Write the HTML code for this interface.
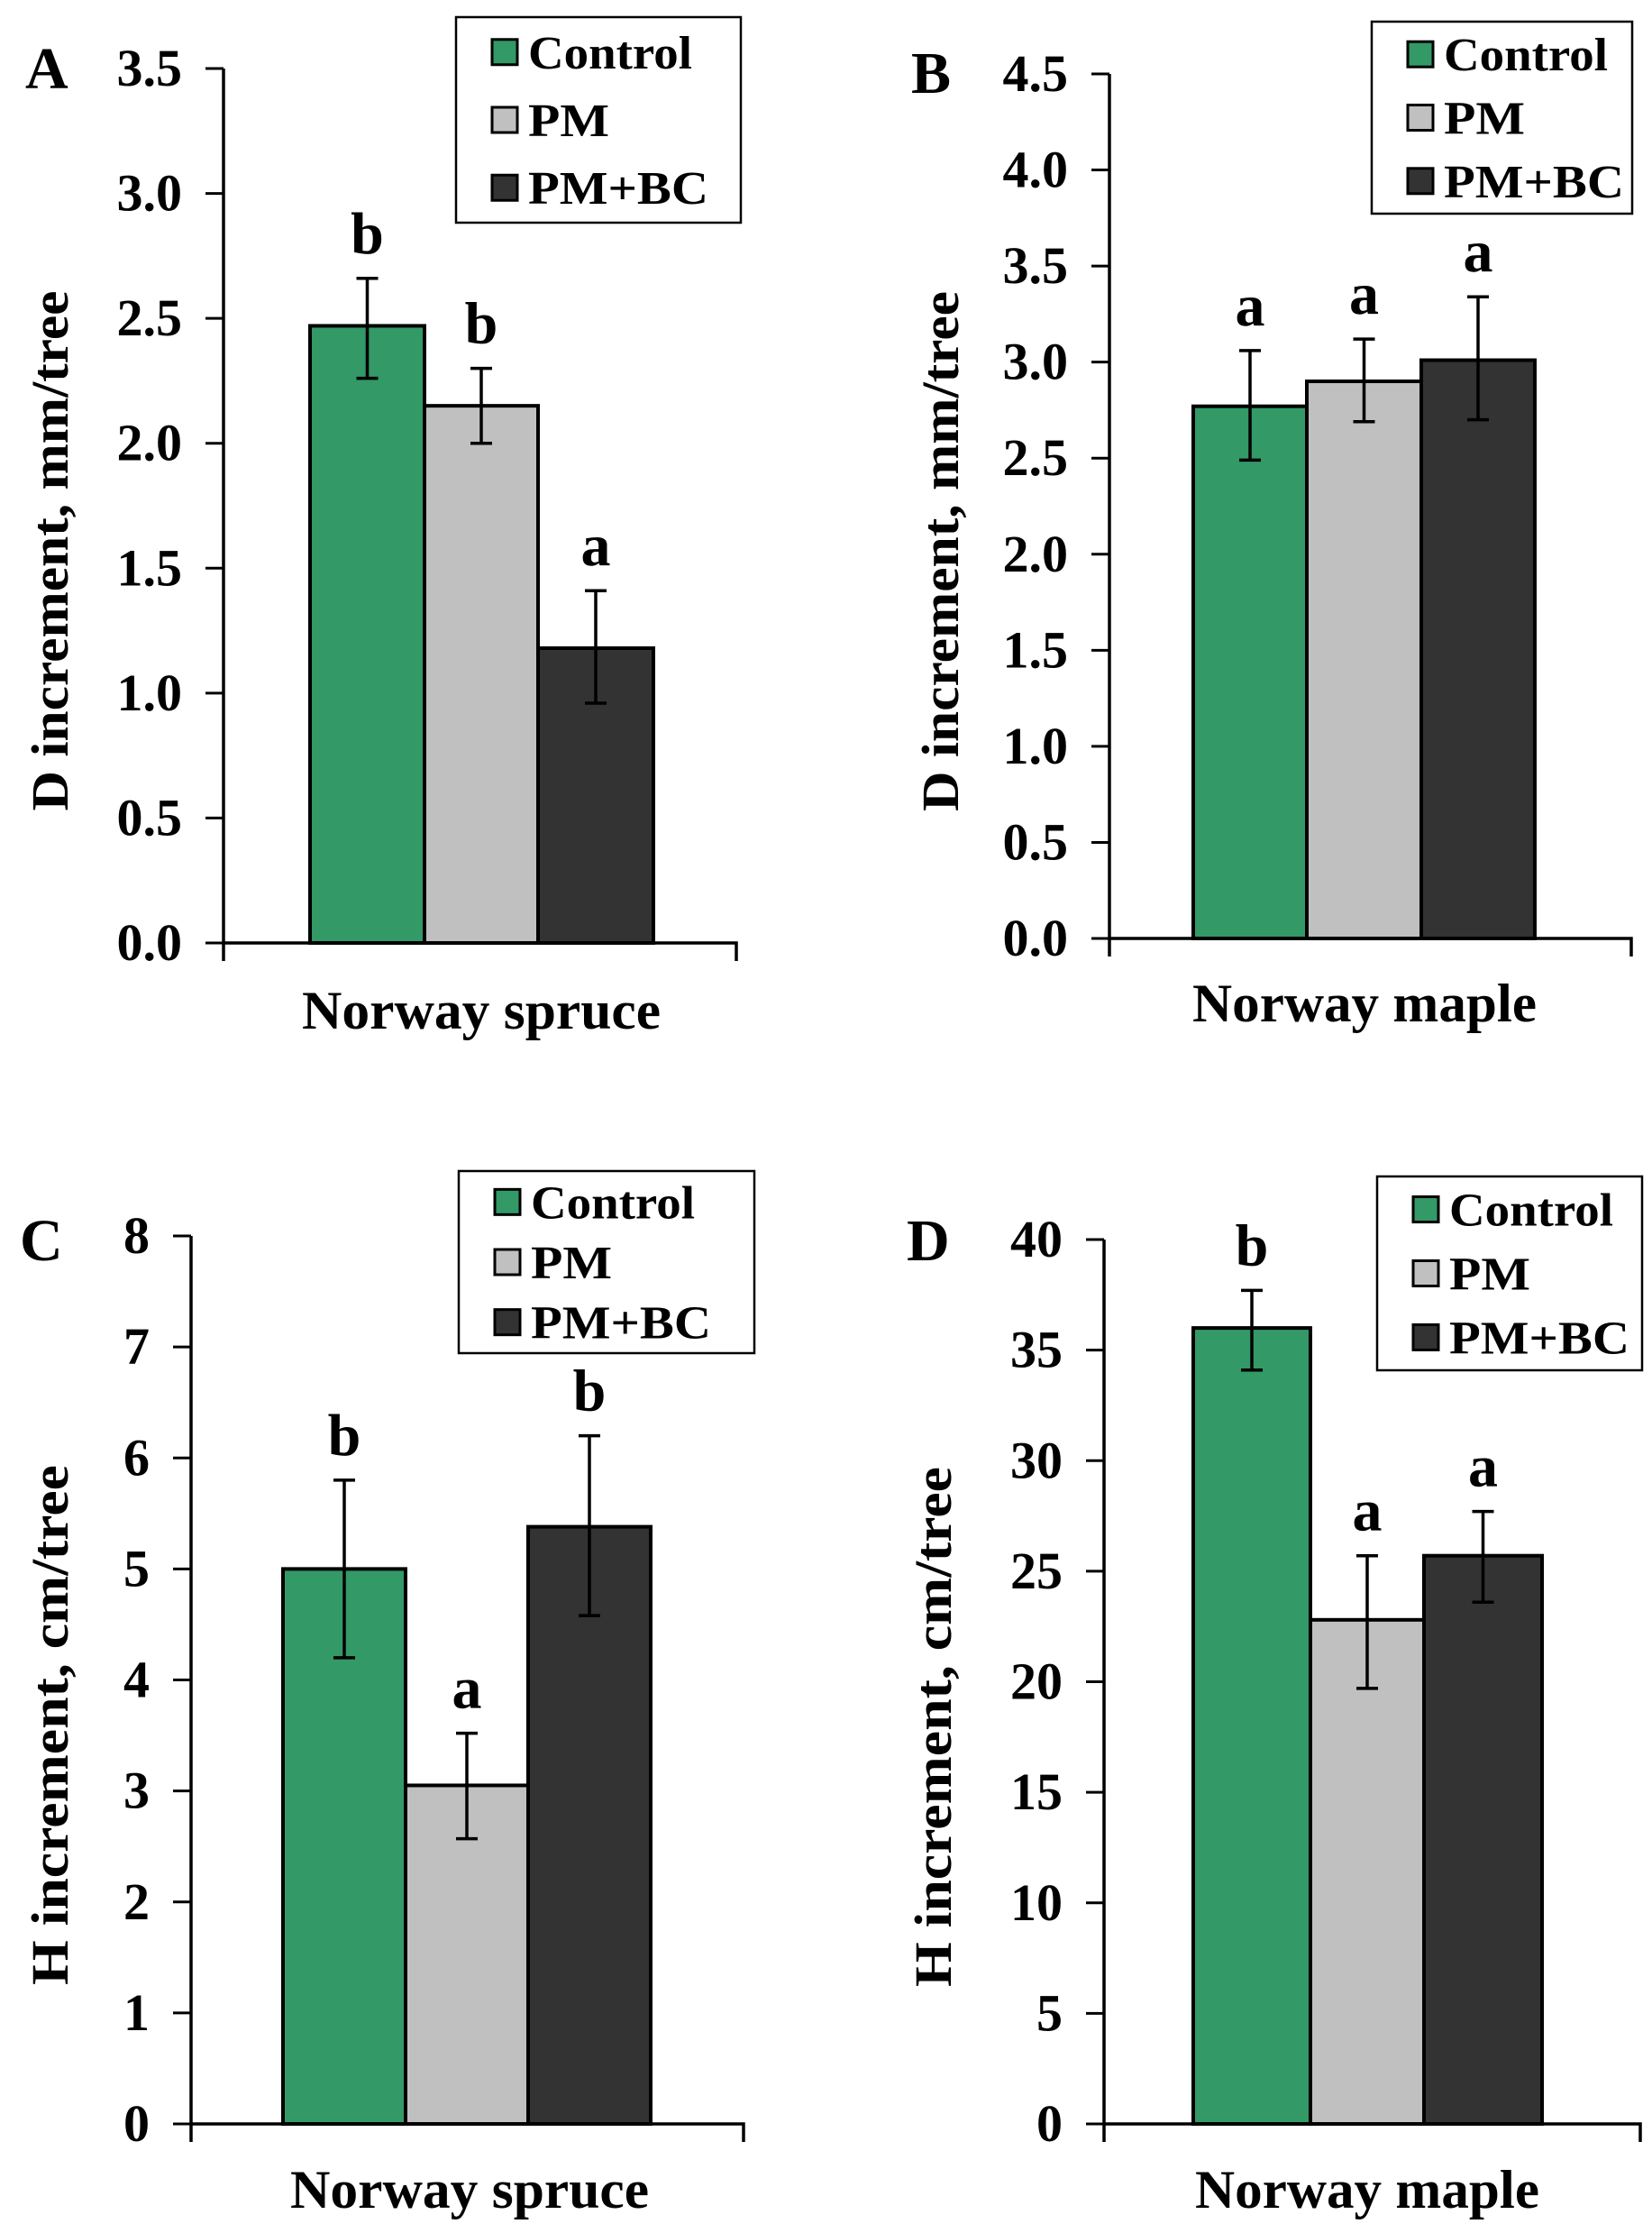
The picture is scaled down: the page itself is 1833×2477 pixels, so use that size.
<!DOCTYPE html>
<html><head><meta charset="utf-8"><style>
html,body{margin:0;padding:0;background:#fff}
svg{display:block}
text{font-family:"Liberation Serif","DejaVu Serif",serif;font-weight:bold;fill:#000}
</style></head><body>
<svg id="fig" width="1833" height="2477" viewBox="0 0 1833 2477" xmlns="http://www.w3.org/2000/svg"></svg>
<script>
const seriesNames = ["Control", "PM", "PM+BC"];
const seriesColors = ["#339966", "#c0c0c0", "#333333"];
const panelLetters = ["A", "B", "C", "D"];
const categoryNames = ["Norway spruce", "Norway maple", "Norway spruce", "Norway maple"];
const yTitles = ["D increment, mm/tree", "D increment, mm/tree", "H increment, cm/tree", "H increment, cm/tree"];
const valuesA = [2.47, 2.15, 1.18];
const errHiA = [2.66, 2.30, 1.41];
const errLoA = [2.26, 2.00, 0.96];
const sigA = ["b", "b", "a"];
const valuesB = [2.77, 2.90, 3.01];
const errHiB = [3.06, 3.12, 3.34];
const errLoB = [2.49, 2.69, 2.70];
const sigB = ["a", "a", "a"];
const valuesC = [5.0, 3.05, 5.38];
const errHiC = [5.8, 3.52, 6.2];
const errLoC = [4.2, 2.57, 4.58];
const sigC = ["b", "a", "b"];
const valuesD = [36.0, 22.8, 25.7];
const errHiD = [37.7, 25.7, 27.7];
const errLoD = [34.1, 19.7, 23.6];
const sigD = ["b", "a", "a"];
const ticksA = ["0.0","0.5","1.0","1.5","2.0","2.5","3.0","3.5"];
const ticksB = ["0.0","0.5","1.0","1.5","2.0","2.5","3.0","3.5","4.0","4.5"];
const ticksC = ["0","1","2","3","4","5","6","7","8"];
const ticksD = ["0","5","10","15","20","25","30","35","40"];

const svg = document.getElementById('fig');
const NS = "http://www.w3.org/2000/svg";
function mk(tag, attrs, parent){const e=document.createElementNS(NS,tag);for(const k in attrs)e.setAttribute(k,attrs[k]);(parent||svg).appendChild(e);return e;}

const layouts = [
 {ax:248, top:76, bot:1046, right:817, bars:[344,471,597,725], leg:[506,19,316,228], letter:[28,98], xl:[534,1141], yt:55},
 {ax:1231, top:82, bot:1041, right:1810, bars:[1324,1450,1577,1703], leg:[1522,24,289,213], letter:[1011,103], xl:[1514,1133], yt:1043},
 {ax:212, top:1371, bot:2356, right:825, bars:[314,450,586,722], leg:[509,1299,328,202], letter:[22,1398], xl:[521,2449], yt:55},
 {ax:1225, top:1375, bot:2356, right:1820, bars:[1324,1454,1580,1711], leg:[1528,1305,294,215], letter:[1006,1398], xl:[1517,2449], yt:1035}
];
const vals=[valuesA,valuesB,valuesC,valuesD], his=[errHiA,errHiB,errHiC,errHiD], los=[errLoA,errLoB,errLoC,errLoD];
const sigs=[sigA,sigB,sigC,sigD], ticks=[ticksA,ticksB,ticksC,ticksD];

layouts.forEach((L,p)=>{
  const g = mk('g',{});
  
  
  const tk = ticks[p];
  const ymax = parseFloat(tk[tk.length-1]);
  const y = v => L.bot - (v/ymax)*(L.bot-L.top);
  vals[p].forEach((v,i)=>{
    const r = mk('rect',{x:L.bars[i],y:y(v),width:L.bars[i+1]-L.bars[i],height:L.bot-y(v),fill:seriesColors[i],stroke:'#000','stroke-width':4},g);
    
    
    const cx=(L.bars[i]+L.bars[i+1])/2;
    const eb = mk('path',{d:`M${cx},${y(his[p][i])}V${y(los[p][i])}M${cx-12},${y(his[p][i])}H${cx+12}M${cx-12},${y(los[p][i])}H${cx+12}`,stroke:'#000','stroke-width':3.5,fill:'none'},g);
    
    
    const s = mk('text',{x:cx,y:y(his[p][i])-28,'text-anchor':'middle','font-size':66},g);
    s.textContent = sigs[p][i];
    
    
  });
  const axis = mk('path',{d:`M${L.ax},${L.top}V${L.bot+20}M${L.ax},${L.bot}H${L.right}V${L.bot+20}`,stroke:'#000','stroke-width':3.5,fill:'none'},g);
  
  
  tk.forEach(t=>{
    const yy = y(parseFloat(t));
    const tm = mk('line',{x1:L.ax-20,x2:L.ax,y1:yy,y2:yy,stroke:'#000','stroke-width':3},g);
    
    
    const tl = mk('text',{x:L.ax-46,y:yy+19,'text-anchor':'end','font-size':58},g);
    tl.textContent = t;
    
    
  });
  const yt = mk('text',{x:0,y:0,'text-anchor':'middle','font-size':58,transform:`translate(${L.yt+20},${(L.top+L.bot)/2+50}) rotate(-90)`,textLength:577,lengthAdjust:'spacingAndGlyphs'},g);
  yt.textContent = yTitles[p];
  
  
  const xl = mk('text',{x:L.xl[0],y:L.xl[1],'text-anchor':'middle','font-size':60,textLength:p%2?382:398,lengthAdjust:'spacingAndGlyphs'},g);
  xl.textContent = categoryNames[p];
  
  
  const pl = mk('text',{x:L.letter[0],y:L.letter[1],'font-size':66},g);
  pl.textContent = panelLetters[p];
  
  
  const [lx,ly,lw,lh]=L.leg;
  const lg = mk('g',{},g);
  
  
  mk('rect',{x:lx,y:ly,width:lw,height:lh,fill:'#fff',stroke:'#000','stroke-width':2.5},lg);
  const tl = [182, 90, 200];
  seriesNames.forEach((n,i)=>{
    const ry = ly + lh*(0.17+0.33*i);
    const e = mk('g',{},lg);
    
    
    mk('rect',{x:lx+40,y:ry-14,width:28,height:28,fill:seriesColors[i],stroke:'#000','stroke-width':3},e);
    const t = mk('text',{x:lx+80,y:ry+18,'font-size':52,textLength:tl[i],lengthAdjust:'spacingAndGlyphs'},e);
    t.textContent = n;
  });
});
</script>
</body></html>
